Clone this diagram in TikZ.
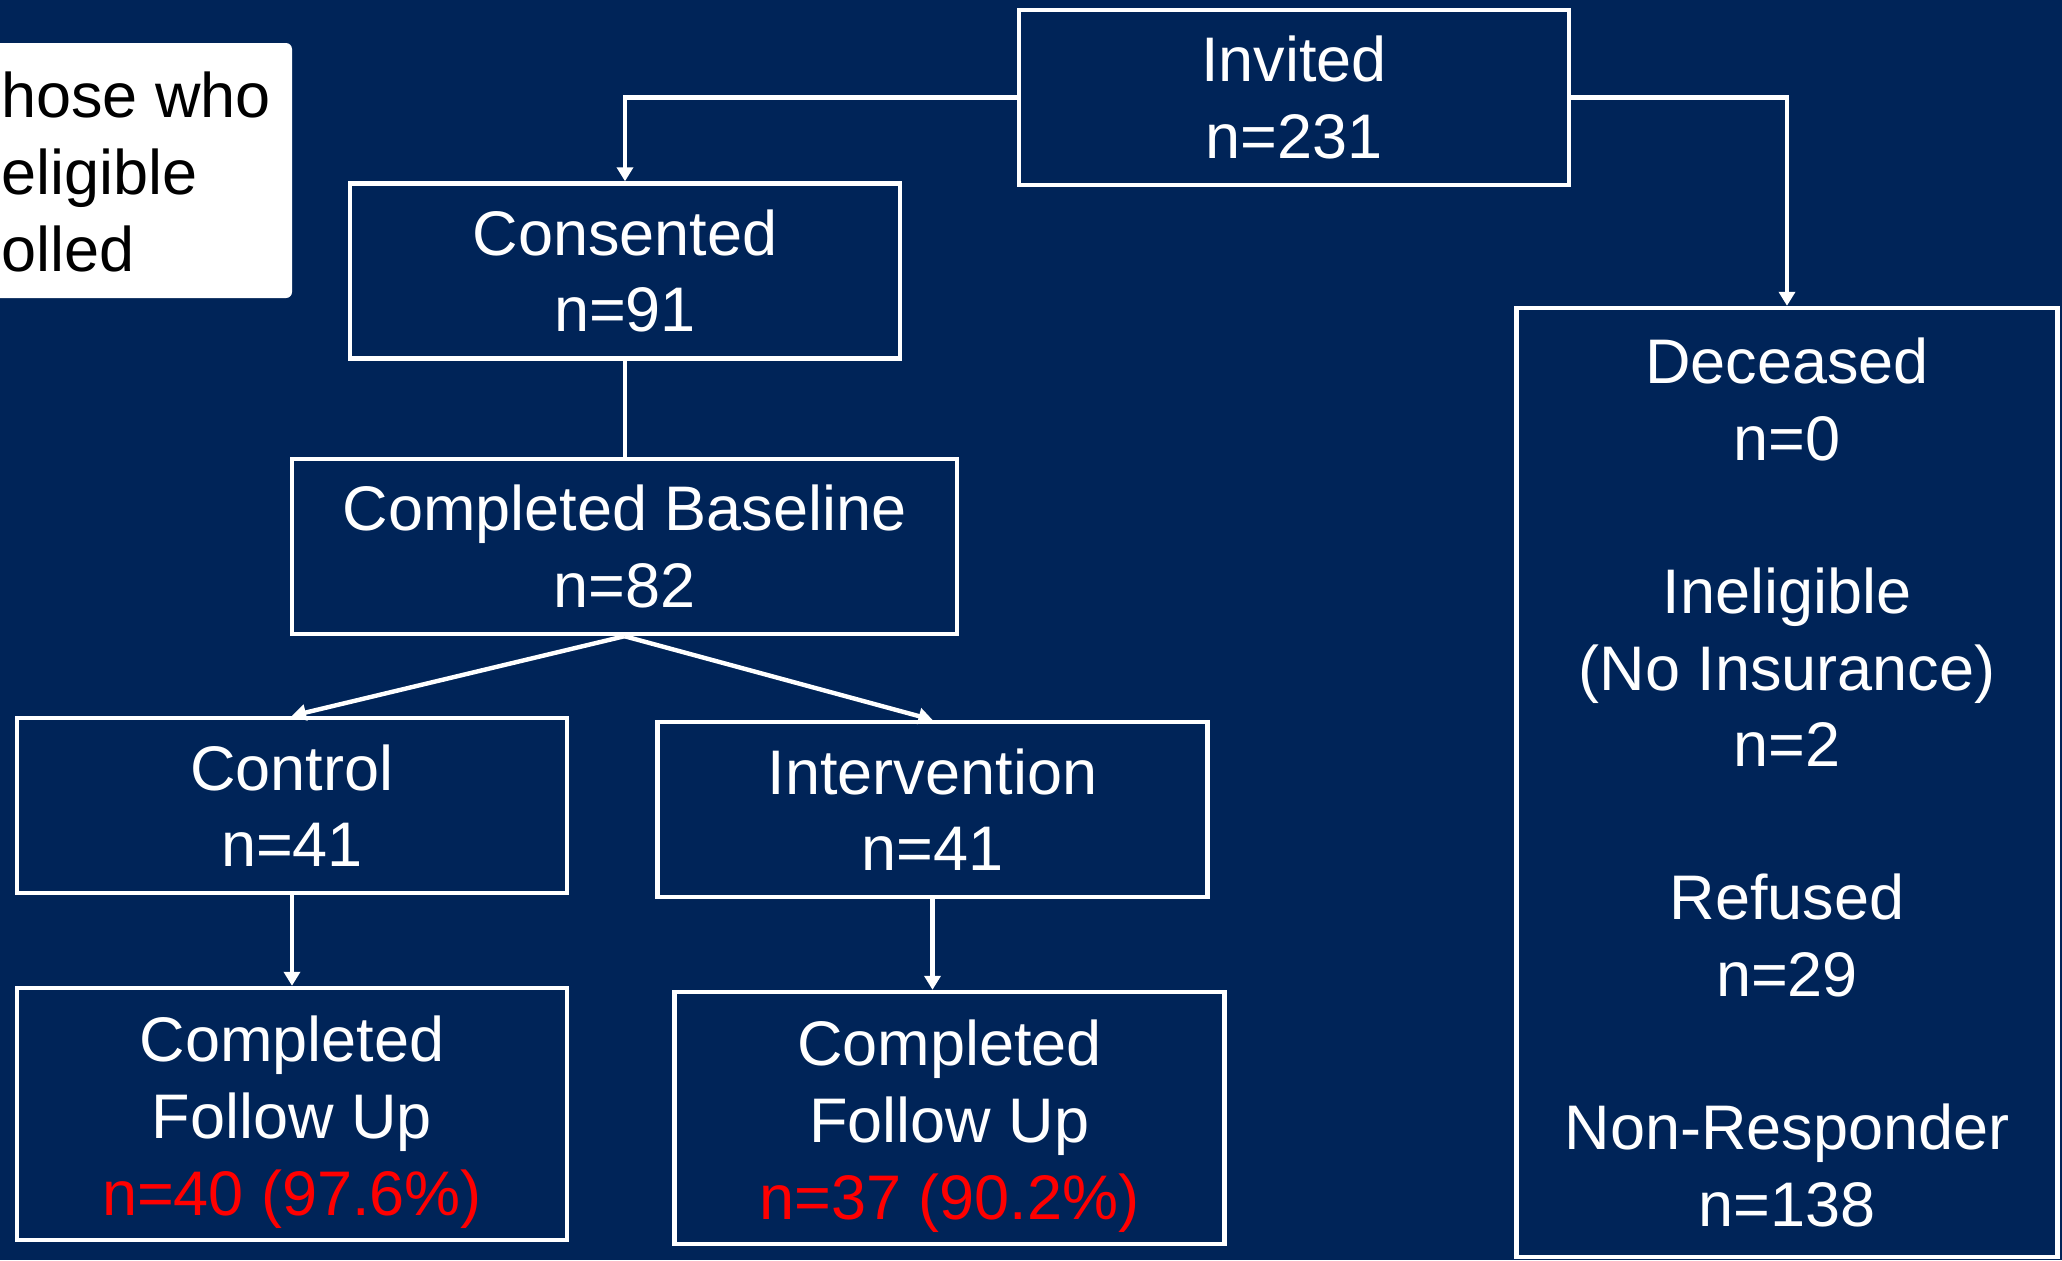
\documentclass[tikz,border=0pt]{standalone}
\usepackage{fontspec}
\setmainfont{Liberation Sans}
\usetikzlibrary{arrows.meta}
\definecolor{navy}{RGB}{0,36,88}
\definecolor{flowred}{RGB}{255,0,0}

\begin{document}
\begin{tikzpicture}[x=0.5pt,y=-0.5pt,
	box/.style={draw=white,line width=2.2pt,text=white,align=center,inner sep=0pt,
		minimum width=275pt,minimum height=87.5pt,
		font=\fontsize{31.5pt}{38.3pt}\selectfont},
	link/.style={draw=white,line width=2.2pt},
	arr/.style={link,-{Triangle[width=8pt,length=7pt]}}]
\clip (0,0) rectangle (2062,1260);
\fill[navy] (0,0) rectangle (2062,1260);
\fill[white,rounded corners=3pt] (-20,43) rectangle (292,298);
\node[anchor=west,align=left,inner sep=0pt,text=black,
	font=\fontsize{31.5pt}{38.5pt}\selectfont] (note) at (1,172) {hose who\\eligible\\olled};

\node[box] (inv) at (1294,97.5) {Invited\\n=231};
\node[box] (cons) at (625,271) {Consented\\n=91};
\node[box,minimum width=332.5pt] (base) at (624.5,546.5) {Completed Baseline\\n=82};
\node[box] (ctrl) at (292,805.5) {Control\\n=41};
\node[box] (intv) at (932.5,809.5) {Intervention\\n=41};
\node[box,minimum height=126pt] (fuc) at (292,1114)
	{\rule{0pt}{31pt}Completed\\Follow Up\\{\color{flowred}n=40 (97.6\%)}};
\node[box,minimum height=126pt] (fui) at (949.5,1118)
	{\rule{0pt}{31pt}Completed\\Follow Up\\{\color{flowred}n=37 (90.2\%)}};
\node[box,minimum width=270.5pt,minimum height=474.5pt] (dec) at (1787,782.5)
	{Deceased\\n=0\\[38.3pt]Ineligible\\(No Insurance)\\n=2\\[38.3pt]Refused\\n=29\\[38.3pt]Non-Responder\\n=138};

\draw[arr] (inv.west) -| (cons.north);
\draw[arr] (inv.east) -| (dec.north);
\draw[link] (cons.south) -- (cons.south |- base.north);
\draw[arr] (base.south) -- (ctrl.north);
\draw[arr] (base.south) -- (intv.north);
\draw[arr] (ctrl.south) -- (fuc.north);
\draw[arr] (intv.south) -- (intv.south |- fui.north);
\end{tikzpicture}
\end{document}
